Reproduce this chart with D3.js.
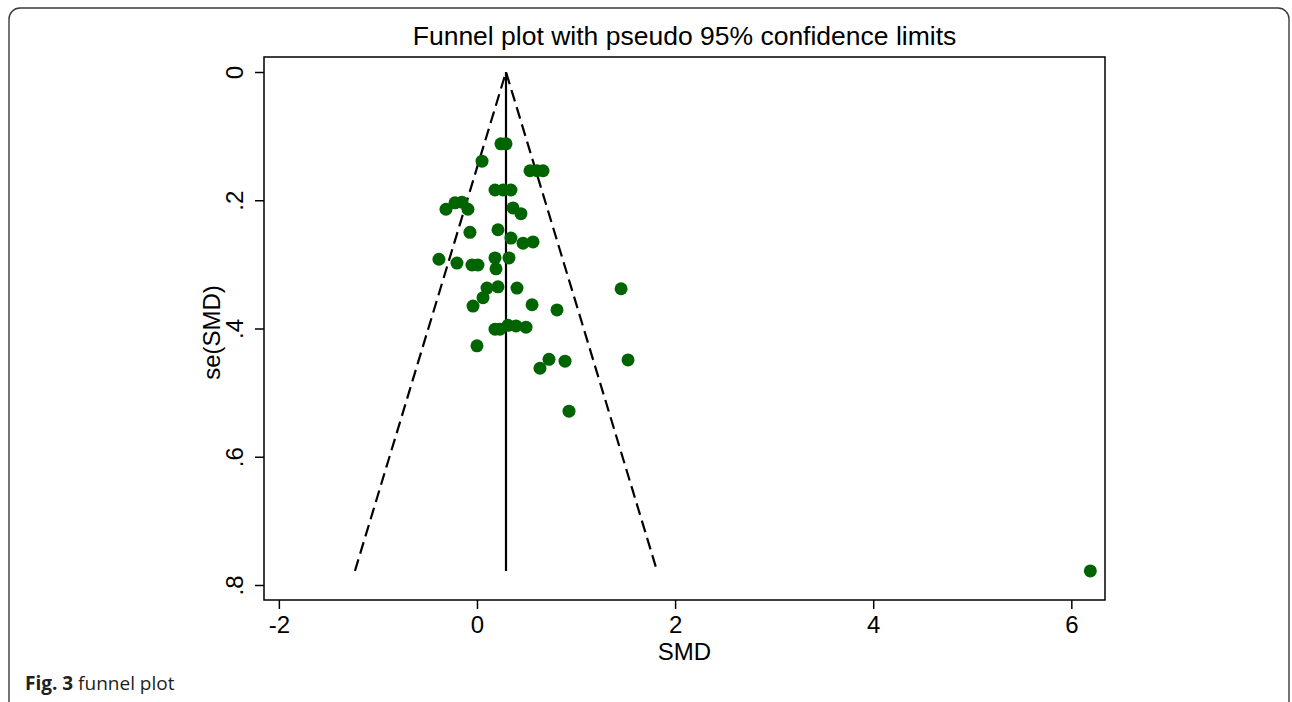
<!DOCTYPE html>
<html>
<head>
<meta charset="utf-8">
<script src="https://cdn.jsdelivr.net/npm/d3@7"></script>
<style>
  html, body { margin: 0; padding: 0; background: #fff; }
  svg { display: block; }
</style>
</head>
<body>
<svg id="chart" width="1292" height="702"></svg>
<script>
// ---- data ----
const smd = [0.242, 0.293, 0.051, 0.535, 0.606, 0.667, 0.182, 0.263, 0.343,
  -0.313, -0.222, -0.152, -0.091, 0.364, 0.444, -0.071, 0.212, 0.343, 0.465, 0.566,
  -0.384, -0.202, -0.051, 0.010, 0.182, 0.323, 0.192, 0.101, 0.212, 0.404, 0.061,
  -0.040, 0.556, 0.808, 1.455, 0.182, 0.232, 0.313, 0.394, 0.495, 0.000,
  0.636, 0.727, 0.889, 1.525, 0.929, 6.192];
const seSmd = [0.112, 0.112, 0.139, 0.154, 0.154, 0.154, 0.184, 0.184, 0.184,
  0.214, 0.204, 0.203, 0.214, 0.212, 0.221, 0.250, 0.246, 0.259, 0.267, 0.265,
  0.292, 0.298, 0.301, 0.301, 0.290, 0.290, 0.307, 0.337, 0.335, 0.337, 0.352,
  0.365, 0.363, 0.371, 0.338, 0.401, 0.401, 0.395, 0.396, 0.398, 0.427,
  0.462, 0.448, 0.451, 0.449, 0.529, 0.778];
const pooled = 0.293;
const xTicks = [-2, 0, 2, 4, 6];
const xTickLabels = ["-2", "0", "2", "4", "6"];
const yTicks = [0, 0.2, 0.4, 0.6, 0.8];
const yTickLabels = ["0", ".2", ".4", ".6", ".8"];
const xDomain = [-2.15, 6.34];
const yDomain = [-0.0234, 0.8234];
const titleText = "Funnel plot with pseudo 95% confidence limits";
const xLabel = "SMD";
const yLabel = "se(SMD)";

// ---- layout ----
const svg = d3.select("#chart");
const box = { left: 264, top: 57, right: 1105, bottom: 600 };
const font = "'Liberation Sans', Arial, sans-serif";
const labelSize = 24;

// outer rounded frame
svg.append("rect")
  .attr("x", 9).attr("y", 8).attr("width", 1280).attr("height", 720)
  .attr("rx", 11).attr("ry", 11)
  .attr("fill", "none").attr("stroke", "#3a3a3a").attr("stroke-width", 1.4);

const x = d3.scaleLinear().domain(xDomain).range([box.left, box.right]);
const y = d3.scaleLinear().domain(yDomain).range([box.top, box.bottom]);

// plot box
svg.append("rect")
  .attr("x", box.left).attr("y", box.top)
  .attr("width", box.right - box.left).attr("height", box.bottom - box.top)
  .attr("fill", "#fff").attr("stroke", "#000").attr("stroke-width", 1.5);

// axes
const xAxis = d3.axisBottom(x).tickValues(xTicks)
  .tickFormat((d, i) => xTickLabels[i]).tickSize(9).tickSizeOuter(0).tickPadding(7);
const gx = svg.append("g").attr("transform", `translate(0,${box.bottom})`).call(xAxis);
gx.select(".domain").remove();
gx.selectAll("line").attr("stroke", "#000").attr("stroke-width", 1.5);
gx.selectAll("text").attr("font-family", font).attr("font-size", labelSize).attr("fill", "#000");

const yAxis = d3.axisLeft(y).tickValues(yTicks)
  .tickFormat((d, i) => yTickLabels[i]).tickSize(9).tickSizeOuter(0);
const gy = svg.append("g").attr("transform", `translate(${box.left},0)`).call(yAxis);
gy.select(".domain").remove();
gy.selectAll("line").attr("stroke", "#000").attr("stroke-width", 1.5);
gy.selectAll("text")
  .attr("font-family", font).attr("font-size", labelSize).attr("fill", "#000")
  .attr("x", null).attr("dy", null)
  .attr("text-anchor", "middle")
  .attr("transform", `translate(${243 - box.left},0) rotate(-90)`);

// funnel lines
const seMax = d3.max(seSmd);
const z = 1.96;
const lineGen = d3.line().x(d => x(d[0])).y(d => y(d[1]));
svg.append("path")
  .attr("d", lineGen([[pooled - z * seMax, seMax], [pooled, 0], [pooled + z * seMax, seMax]]))
  .attr("fill", "none").attr("stroke", "#000").attr("stroke-width", 2.2)
  .attr("stroke-dasharray", "12,6");
svg.append("path")
  .attr("d", lineGen([[pooled, 0], [pooled, seMax]]))
  .attr("fill", "none").attr("stroke", "#000").attr("stroke-width", 2.2);

// points
svg.append("g").selectAll("circle")
  .data(smd.map((v, i) => [v, seSmd[i]]))
  .join("circle")
  .attr("cx", d => x(d[0])).attr("cy", d => y(d[1]))
  .attr("r", 6.5).attr("fill", "#006400");

// title and axis titles
svg.append("text").attr("x", (box.left + box.right) / 2).attr("y", 45)
  .attr("text-anchor", "middle").attr("font-family", font).attr("font-size", 26.5)
  .attr("fill", "#000").text(titleText);
svg.append("text").attr("x", (box.left + box.right) / 2).attr("y", 660)
  .attr("text-anchor", "middle").attr("font-family", font).attr("font-size", labelSize)
  .attr("fill", "#000").text(xLabel);
svg.append("text")
  .attr("transform", `translate(220,${(box.top + box.bottom) / 2 + 4}) rotate(-90)`)
  .attr("text-anchor", "middle").attr("font-family", font).attr("font-size", labelSize)
  .attr("fill", "#000").text(yLabel);

// caption
const cap = svg.append("text").attr("x", 25).attr("y", 690)
  .attr("font-family", "'Open Sans', sans-serif").attr("font-size", 19).attr("fill", "#231f20");
cap.append("tspan").attr("font-weight", "bold").text("Fig. 3");
cap.append("tspan").text(" funnel plot");
</script>
</body>
</html>
